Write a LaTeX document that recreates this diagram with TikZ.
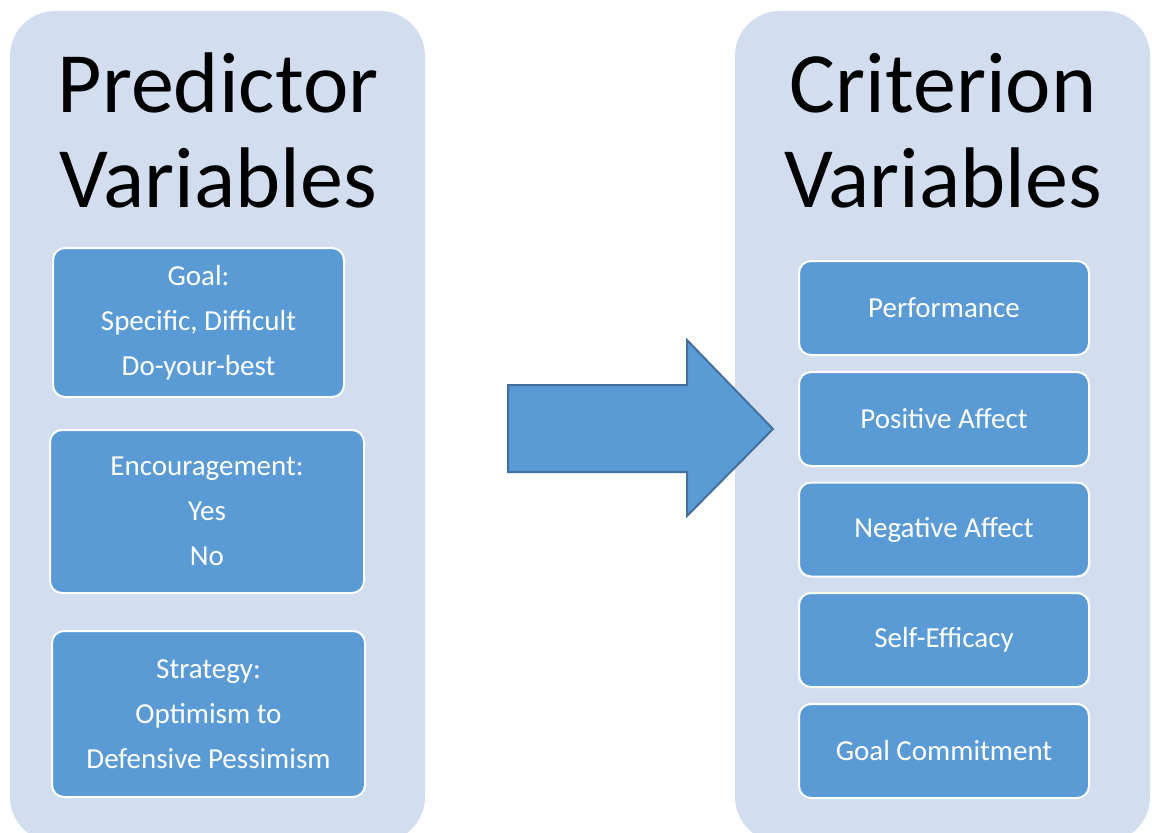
\documentclass[tikz,border=0pt]{standalone}
\usepackage{fontspec}
\setmainfont{Carlito}
\definecolor{panelblue}{HTML}{D2DEEF}
\definecolor{boxblue}{HTML}{5B9BD5}
\definecolor{arrowedge}{HTML}{41719C}
\tikzset{
  panelbox/.style={fill=panelblue, draw=none, rounded corners=45pt, inner sep=0pt},
  titletext/.style={font=\fontsize{86}{95}\selectfont, text=black, inner sep=0pt, anchor=base},
  varbox/.style={fill=boxblue, draw=white, line width=2pt, rounded corners=12pt,
    text=white, align=center, inner sep=0pt,
    font=\fontsize{29}{45}\selectfont},
  blockarrow/.style={fill=boxblue, draw=arrowedge, line width=2pt, line join=miter}
}
\begin{document}
\begin{tikzpicture}[x=1pt,y=-1pt]
\useasboundingbox (0,0) rectangle (1152,833);
\clip (0,0) rectangle (1152,833);
\fill[white] (0,0) rectangle (1152,833);
% panels
\node[panelbox, minimum width=415pt, minimum height=831pt] (lpanel) at (217.5,426.5) {};
\node[panelbox, minimum width=415pt, minimum height=831pt] (rpanel) at (942.5,426.5) {};
% titles
\node[titletext] (lt1) at (218,112) {Predictor};
\node[titletext] (lt2) at (218,207) {Variables};
\node[titletext] (rt1) at (943,112) {Criterion};
\node[titletext] (rt2) at (943,207) {Variables};
% predictor boxes
\node[varbox, minimum width=291pt, minimum height=149pt] (goal) at (198.5,322.5)
  {Goal:\\Specific, Difficult\\Do-your-best};
\node[varbox, minimum width=314pt, minimum height=163pt] (enc) at (207,511.5)
  {Encouragement:\\Yes\\No};
\node[varbox, minimum width=313pt, minimum height=166pt] (strat) at (208.5,714)
  {Strategy:\\Optimism to\\Defensive Pessimism};
% criterion boxes
\node[varbox, minimum width=290pt, minimum height=94pt] (perf) at (944,308) {Performance};
\node[varbox, minimum width=290pt, minimum height=94pt] (pos) at (944,419) {Positive Affect};
\node[varbox, minimum width=290pt, minimum height=94pt] (neg) at (944,529.5) {Negative Affect};
\node[varbox, minimum width=290pt, minimum height=94pt] (self) at (944,640) {Self-Efficacy};
\node[varbox, minimum width=290pt, minimum height=94pt] (gc) at (944,751) {Goal Commitment};
% block arrow
\draw[blockarrow] (508,385) -- (687,385) -- (687,340) -- (773,429) -- (687,516) -- (687,472) -- (508,472) -- cycle;
\end{tikzpicture}
\end{document}
